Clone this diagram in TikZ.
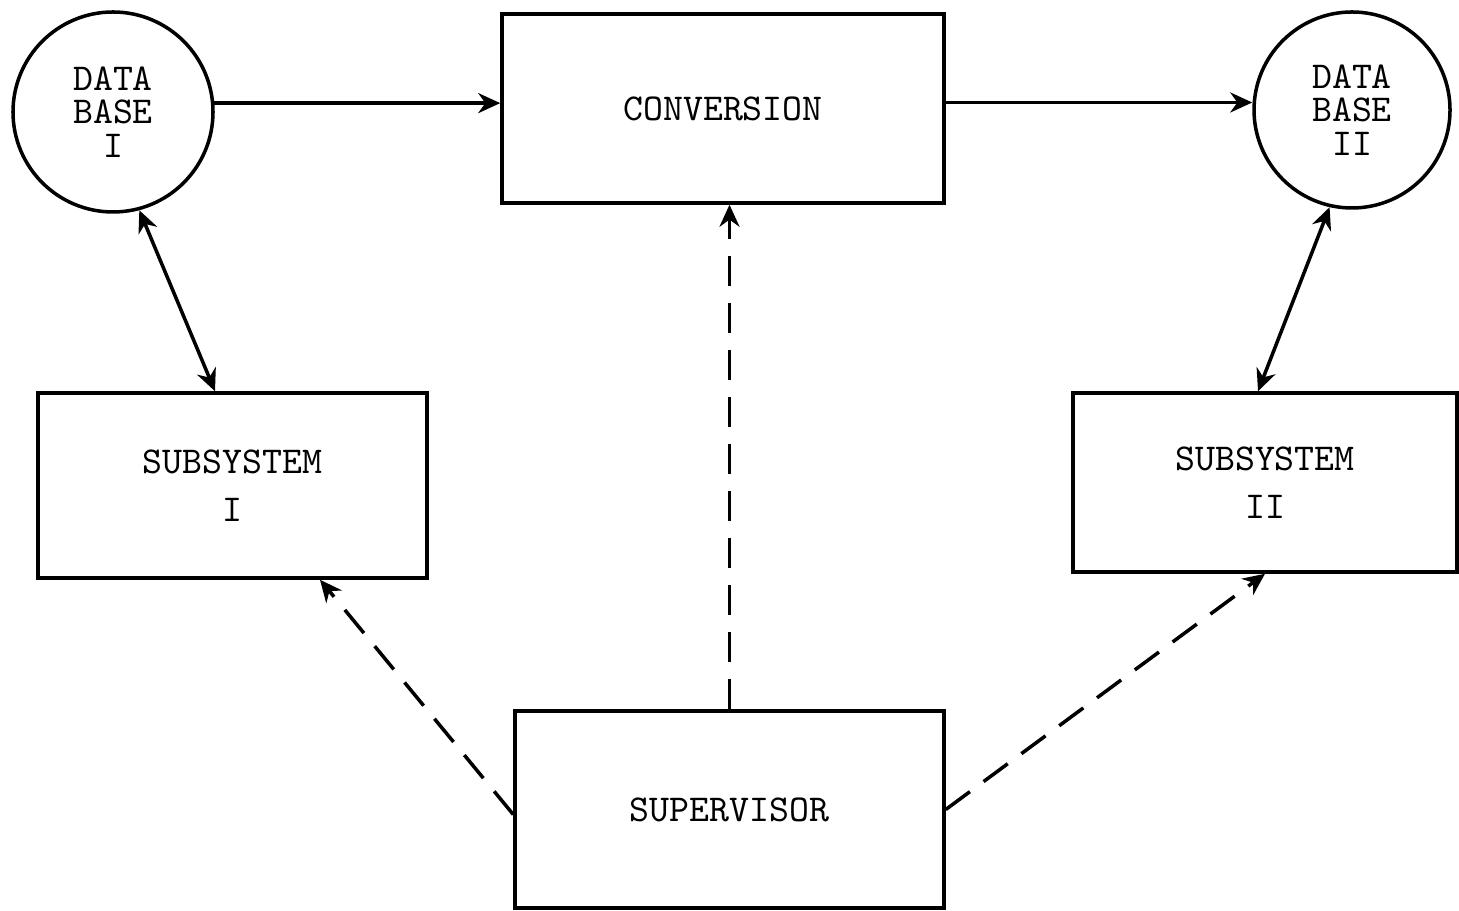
\documentclass[tikz,border=0pt]{standalone}
\usetikzlibrary{arrows.meta,calc}
\tikzset{
	box/.style={draw, line width=1pt, align=center, inner sep=0pt,
			font=\ttfamily\fontsize{10.8}{9.6}\selectfont},
	base/.style={box, circle, minimum size=2cm},
	flow/.style={line width=1pt, -{Stealth[length=2.2mm,width=2mm]}},
	dflow/.style={line width=1pt, {Stealth[length=2.2mm,width=2mm]}-{Stealth[length=2.2mm,width=2mm]}},
	ctrl/.style={flow, dash pattern=on 3mm off 1.7mm}
}

\begin{document}
\begin{tikzpicture}
        \useasboundingbox (0, 0) rectangle (14.59, 9.10);
        \node[base] (dbA) at (1.13, 7.98) {DATA\\BASE\\I};
        \node[base, minimum size=1.96cm] (dbB) at (13.52, 8.00) {DATA\\BASE\\II};
        \node[box, minimum width=4.42cm, minimum height=1.89cm] (conv) at (7.23, 8.015) {CONVERSION};
        \node[box, minimum width=3.89cm, minimum height=1.85cm] (subA) at (2.325, 4.245) {SUBSYSTEM\\[4pt]I};
        \node[box, minimum width=3.84cm, minimum height=1.79cm] (subB) at (12.65, 4.275) {SUBSYSTEM\\[4pt]II};
        \node[box, minimum width=4.29cm, minimum height=1.97cm] (sup) at (7.295, 1.005) {SUPERVISOR};
        \draw[flow] (dbA.5) -- (dbA.5 -| conv.west);
        \draw[flow] ([yshift=0.6mm]conv.east) -- ([yshift=0.6mm]conv.east -| dbB.west);
        \draw[dflow] (dbA.-75) -- ([xshift=-1.75mm]subA.north);
        \draw[dflow] (dbB.-103) -- ([xshift=-0.7mm]subB.north);
        \draw[ctrl] (sup.north) -- (sup.north |- conv.south);
        \draw[ctrl] ([yshift=-0.5mm]sup.west) -- ([xshift=8.75mm]subA.south);
        \draw[ctrl] (sup.east) -- (subB.south);
    \end{tikzpicture}
\end{document}
